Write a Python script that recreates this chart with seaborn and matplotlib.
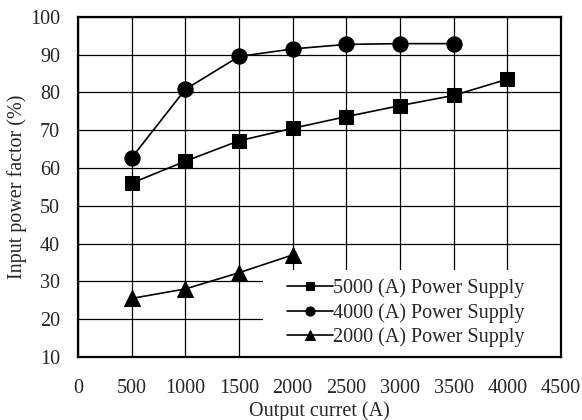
import pandas as pd
import matplotlib
matplotlib.use('Agg')
import matplotlib.pyplot as plt
from matplotlib.patches import Rectangle
import seaborn as sns

current_5000 = [500, 1000, 1500, 2000, 2500, 3000, 3500, 4000]
pf_5000 = [56.0, 61.8, 67.2, 70.5, 73.6, 76.5, 79.2, 83.5]
current_4000 = [500, 1000, 1500, 2000, 2500, 3000, 3500]
pf_4000 = [62.7, 80.8, 89.5, 91.5, 92.7, 92.9, 92.9]
current_2000 = [500, 1000, 1500, 2000]
pf_2000 = [25.5, 28.0, 32.3, 37.0]

x_ticks = [0, 500, 1000, 1500, 2000, 2500, 3000, 3500, 4000, 4500]
y_ticks = [10, 20, 30, 40, 50, 60, 70, 80, 90, 100]

sns.set_style('white')
plt.rcParams['font.family'] = ['Liberation Serif', 'DejaVu Serif']

fs = 14.5
fig = plt.figure(figsize=(5.82, 4.2), dpi=100)
ax = fig.add_axes([0.134, 0.15, 0.83, 0.81])

series = [
    (current_5000, pf_5000, 's', 10, '5000 (A) Power Supply'),
    (current_4000, pf_4000, 'o', 11, '4000 (A) Power Supply'),
    (current_2000, pf_2000, '^', 11, '2000 (A) Power Supply'),
]
for xs, ys, mk, ms, lab in series:
    df = pd.DataFrame({'x': xs, 'y': ys})
    sns.lineplot(data=df, x='x', y='y', ax=ax, color='black', marker=mk,
                 markersize=ms, markeredgecolor='black', linewidth=1.2,
                 label=lab, zorder=4)

ax.set_xlim(0, 4500)
ax.set_ylim(10, 100)
ax.set_xticks(x_ticks)
ax.set_yticks(y_ticks)
ax.grid(True, color='black', linewidth=0.9)
ax.tick_params(axis='both', length=0, labelsize=fs)
ax.tick_params(axis='x', pad=16)
ax.tick_params(axis='y', pad=13)
for sp in ax.spines.values():
    sp.set_color('black')
    sp.set_linewidth(1.6)
    sp.set_zorder(6)

ax.set_xlabel('Output curret (A)', fontsize=fs, labelpad=2)
ax.set_ylabel('Input power factor (%)', fontsize=fs, labelpad=2)

# white box behind the legend that hides the grid
ax.add_patch(Rectangle((0.383, 0.0), 0.617, 0.256, transform=ax.transAxes,
                       facecolor='white', edgecolor='none', zorder=5))

leg = ax.legend(loc='upper left', bbox_to_anchor=(0.433, 0.232),
                borderaxespad=0, borderpad=0, fontsize=fs, frameon=False,
                markerscale=0.6, handlelength=2.3, handletextpad=0.0,
                labelspacing=0.25)
leg.set_zorder(7)

plt.savefig('out.png', dpi=100)
